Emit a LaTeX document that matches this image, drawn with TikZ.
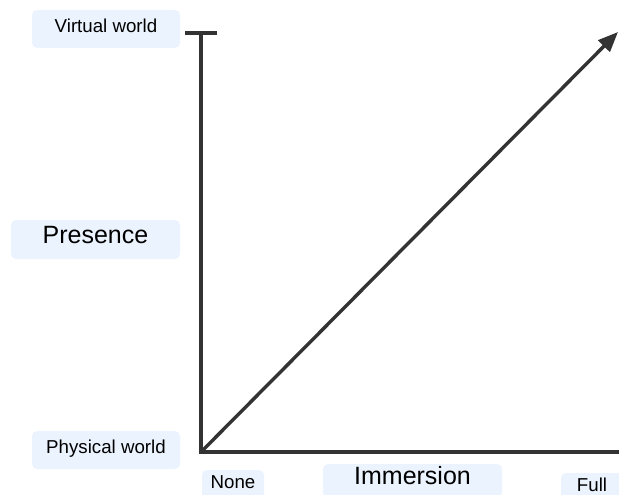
\documentclass[tikz,border=0pt]{standalone}
\usepackage{fontspec}
\setmainfont{Liberation Sans}
\usetikzlibrary{arrows.meta,positioning,calc}
\definecolor{boxbg}{HTML}{EBF3FE}
\definecolor{axcol}{HTML}{333333}
\tikzset{
  lbl/.style    = {fill=boxbg, rounded corners=5pt, inner sep=0pt,
                   text height=0.72em, text depth=0pt,
                   font=\fontsize{18.7}{20}\selectfont},
  lblbig/.style = {lbl, font=\fontsize{25}{27}\selectfont},
  ax/.style     = {draw=axcol, line width=3.6pt},
  axarr/.style  = {draw=axcol, line width=3.4pt,
                   -{Triangle[length=20pt,width=16pt]}},
}

\begin{document}
\begin{tikzpicture}[x=1pt,y=-1pt]
  \useasboundingbox (0,0) rectangle (619,495);
  % labels
  \node[lbl, minimum width=148pt, minimum height=38pt] (virt) at (106,29)    {Virtual world};
  \node[lblbig, minimum width=169pt, minimum height=39pt] (pres) at (95.5,239.5) {Presence};
  \node[lbl, minimum width=148pt, minimum height=38pt] (phys) at (106,450)   {Physical world};
  \node[lbl, minimum width=62pt, minimum height=30pt] (none) at (233,485)    {None};
  \node[lblbig, minimum width=179pt, minimum height=34pt] (imm) at (412.5,481) {Immersion};
  \node[lbl, minimum width=62pt, minimum height=30pt] (full) at (592,488)    {Full};
  % axes
  \coordinate (o) at (201,452);
  \coordinate (ytop) at (201,33);
  \coordinate (tl) at (185,33);
  \coordinate (tr) at (217,33);
  \coordinate (xend) at (620,452);
  \coordinate (tip) at (618,32);
  \draw[ax] (tl) -- (tr) (ytop) -- (o) -- (xend);
  \draw[axarr] (o) -- (tip);
\end{tikzpicture}
\end{document}
